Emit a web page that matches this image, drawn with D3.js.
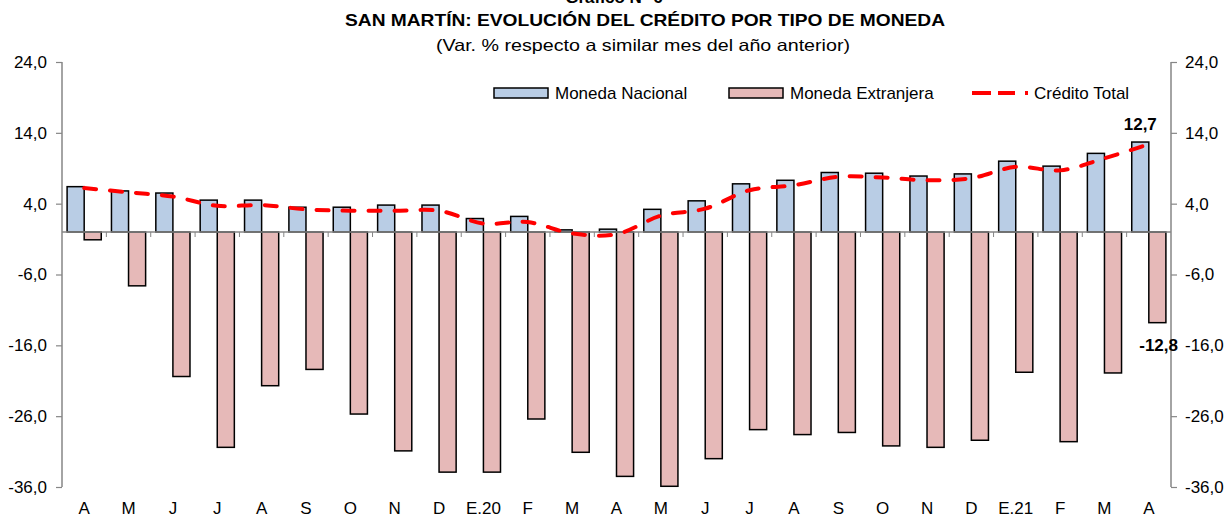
<!DOCTYPE html>
<html>
<head>
<meta charset="utf-8">
<script src="https://cdn.jsdelivr.net/npm/d3@7"></script>
<style>
  body { margin: 0; background: #fff; }
  text { font-family: 'Liberation Sans', Arial, sans-serif; fill: #000; }
</style>
</head>
<body>
<div id="chart"></div>
<script>
// Data
const months = ['A', 'M', 'J', 'J', 'A', 'S', 'O', 'N', 'D', 'E.20', 'F', 'M', 'A',
                'M', 'J', 'J', 'A', 'S', 'O', 'N', 'D', 'E.21', 'F', 'M', 'A'];
const monedaNacional = [6.4, 5.8, 5.5, 4.5, 4.5, 3.5, 3.5, 3.8, 3.8, 1.9, 2.2, 0.3, 0.4,
                        3.2, 4.4, 6.8, 7.3, 8.4, 8.3, 7.9, 8.2, 10.0, 9.3, 11.1, 12.7];
const monedaExtranjera = [-1.1, -7.6, -20.4, -30.4, -21.7, -19.4, -25.7, -30.9, -33.9, -33.9, -26.4, -31.1, -34.5,
                          -35.9, -32.0, -27.9, -28.6, -28.3, -30.2, -30.4, -29.4, -19.8, -29.6, -19.9, -12.8];
const creditoTotal = [6.2, 5.6, 5.0, 3.7, 3.8, 3.2, 3.0, 3.0, 3.0, 1.2, 1.4, -0.2, -0.3,
                      2.3, 3.3, 5.9, 6.6, 7.8, 7.7, 7.3, 7.6, 9.2, 8.7, 10.4, 12.4];
const yTicks = [24, 14, 4, -6, -16, -26, -36];

const width = 1229, height = 518;
const margin = { top: 62, right: 58, bottom: 31, left: 62 };

const svg = d3.select('#chart').append('svg')
  .attr('width', width)
  .attr('height', height);

const idx = months.map((d, i) => i);
const x = d3.scaleBand()
  .domain(idx)
  .range([margin.left, width - margin.right]);
const y = d3.scaleLinear()
  .domain([-36, 24])
  .range([height - margin.bottom, margin.top]);

// Spanish style numbers: comma decimal, plain hyphen for minus
const locale = d3.formatLocale({ decimal: ',', thousands: '.', grouping: [3], currency: ['', ''], minus: '-' });
const fmt = locale.format('.1f');
const axisColor = '#868686';

// Titles
svg.append('text')
  .attr('x', 614).attr('y', 3)
  .attr('text-anchor', 'middle')
  .style('font-size', '17px').style('font-weight', 'bold')
  .text('Gráfico N° 6');
svg.append('text')
  .attr('x', 645).attr('y', 26)
  .attr('text-anchor', 'middle')
  .attr('textLength', 600)
  .attr('lengthAdjust', 'spacingAndGlyphs')
  .style('font-size', '16.5px').style('font-weight', 'bold')
  .text('SAN MARTÍN: EVOLUCIÓN DEL CRÉDITO POR TIPO DE MONEDA');
svg.append('text')
  .attr('x', 643).attr('y', 51)
  .attr('text-anchor', 'middle')
  .attr('textLength', 414)
  .attr('lengthAdjust', 'spacingAndGlyphs')
  .style('font-size', '16.5px')
  .text('(Var. % respecto a similar mes del año anterior)');

// Left and right axes
const leftAxis = svg.append('g')
  .attr('transform', `translate(${margin.left},0)`)
  .call(d3.axisLeft(y).tickValues(yTicks).tickSize(6).tickPadding(9).tickFormat(fmt));
const rightAxis = svg.append('g')
  .attr('transform', `translate(${width - margin.right},0)`)
  .call(d3.axisRight(y).tickValues(yTicks).tickSize(6).tickPadding(8).tickFormat(fmt));
[leftAxis, rightAxis].forEach(g => {
  g.select('.domain').attr('stroke', axisColor).attr('stroke-width', 1.5)
    .attr('d', `M0,${y(24)}V${y(-36)}`);
  g.selectAll('.tick line').attr('stroke', axisColor).attr('stroke-width', 1.2);
  g.selectAll('.tick text').style('font-size', '17px').attr('fill', '#000');
});

// Bars
const barW = x.bandwidth() * 0.385;
svg.append('g').selectAll('rect')
  .data(monedaNacional)
  .join('rect')
  .attr('x', (d, i) => x(i) + x.bandwidth() / 2 - barW)
  .attr('y', d => y(Math.max(0, d)))
  .attr('width', barW)
  .attr('height', d => Math.abs(y(d) - y(0)))
  .attr('fill', '#B9CDE5')
  .attr('stroke', '#000')
  .attr('stroke-width', 1.5);
svg.append('g').selectAll('rect')
  .data(monedaExtranjera)
  .join('rect')
  .attr('x', (d, i) => x(i) + x.bandwidth() / 2)
  .attr('y', d => y(Math.max(0, d)))
  .attr('width', barW)
  .attr('height', d => Math.abs(y(d) - y(0)))
  .attr('fill', '#E6B9B8')
  .attr('stroke', '#000')
  .attr('stroke-width', 1.5);

// Zero axis with category ticks
const xAxis = svg.append('g')
  .attr('transform', `translate(0,${y(0)})`);
xAxis.append('line')
  .attr('x1', margin.left).attr('x2', width - margin.right)
  .attr('stroke', axisColor).attr('stroke-width', 1.5);
xAxis.selectAll('.cat-tick')
  .data(idx.slice(1))
  .join('line')
  .attr('class', 'cat-tick')
  .attr('x1', i => x(i)).attr('x2', i => x(i))
  .attr('y1', 0).attr('y2', 5)
  .attr('stroke', axisColor).attr('stroke-width', 1);

// Month labels at the bottom
svg.append('g').selectAll('text')
  .data(months)
  .join('text')
  .attr('x', (d, i) => x(i) + x.bandwidth() / 2)
  .attr('y', 514)
  .attr('text-anchor', 'middle')
  .style('font-size', '17px')
  .text(d => d);

// Total credit line
const line = d3.line()
  .x((d, i) => x(i) + x.bandwidth() / 2)
  .y(d => y(d))
  .curve(d3.curveCatmullRom.alpha(0.5));
svg.append('path')
  .datum(creditoTotal)
  .attr('d', line)
  .attr('fill', 'none')
  .attr('stroke', '#FF0000')
  .attr('stroke-width', 4)
  .attr('stroke-dasharray', '12,14')
  .attr('stroke-linecap', 'round');

// Data labels for the last month
const last = months.length - 1;
svg.append('text')
  .attr('x', x(last) + x.bandwidth() / 2 - barW / 2)
  .attr('y', y(monedaNacional[last]) - 12)
  .attr('text-anchor', 'middle')
  .style('font-size', '17px').style('font-weight', 'bold')
  .text(fmt(monedaNacional[last]));
svg.append('text')
  .attr('x', width - margin.right + 7)
  .attr('y', y(monedaExtranjera[last]) + 28)
  .attr('text-anchor', 'end')
  .style('font-size', '17px').style('font-weight', 'bold')
  .text(fmt(monedaExtranjera[last]));

// Legend
const legend = svg.append('g').attr('transform', 'translate(0,93)');
const items = [
  { label: 'Moneda Nacional', x: 494, type: 'rect', color: '#B9CDE5' },
  { label: 'Moneda Extranjera', x: 729, type: 'rect', color: '#E6B9B8' },
  { label: 'Crédito Total', x: 972, type: 'line', color: '#FF0000' }
];
items.forEach(it => {
  if (it.type === 'rect') {
    legend.append('rect')
      .attr('x', it.x).attr('y', -5)
      .attr('width', 54).attr('height', 10)
      .attr('fill', it.color).attr('stroke', '#000').attr('stroke-width', 1.5);
  } else {
    legend.append('line')
      .attr('x1', it.x).attr('x2', it.x + 57)
      .attr('stroke', it.color).attr('stroke-width', 4)
      .attr('stroke-dasharray', '19,7,17,10,3,50');
  }
  legend.append('text')
    .attr('x', it.x + (it.type === 'rect' ? 61 : 62))
    .attr('dy', '0.35em')
    .style('font-size', '17px')
    .text(it.label);
});
</script>
</body>
</html>
